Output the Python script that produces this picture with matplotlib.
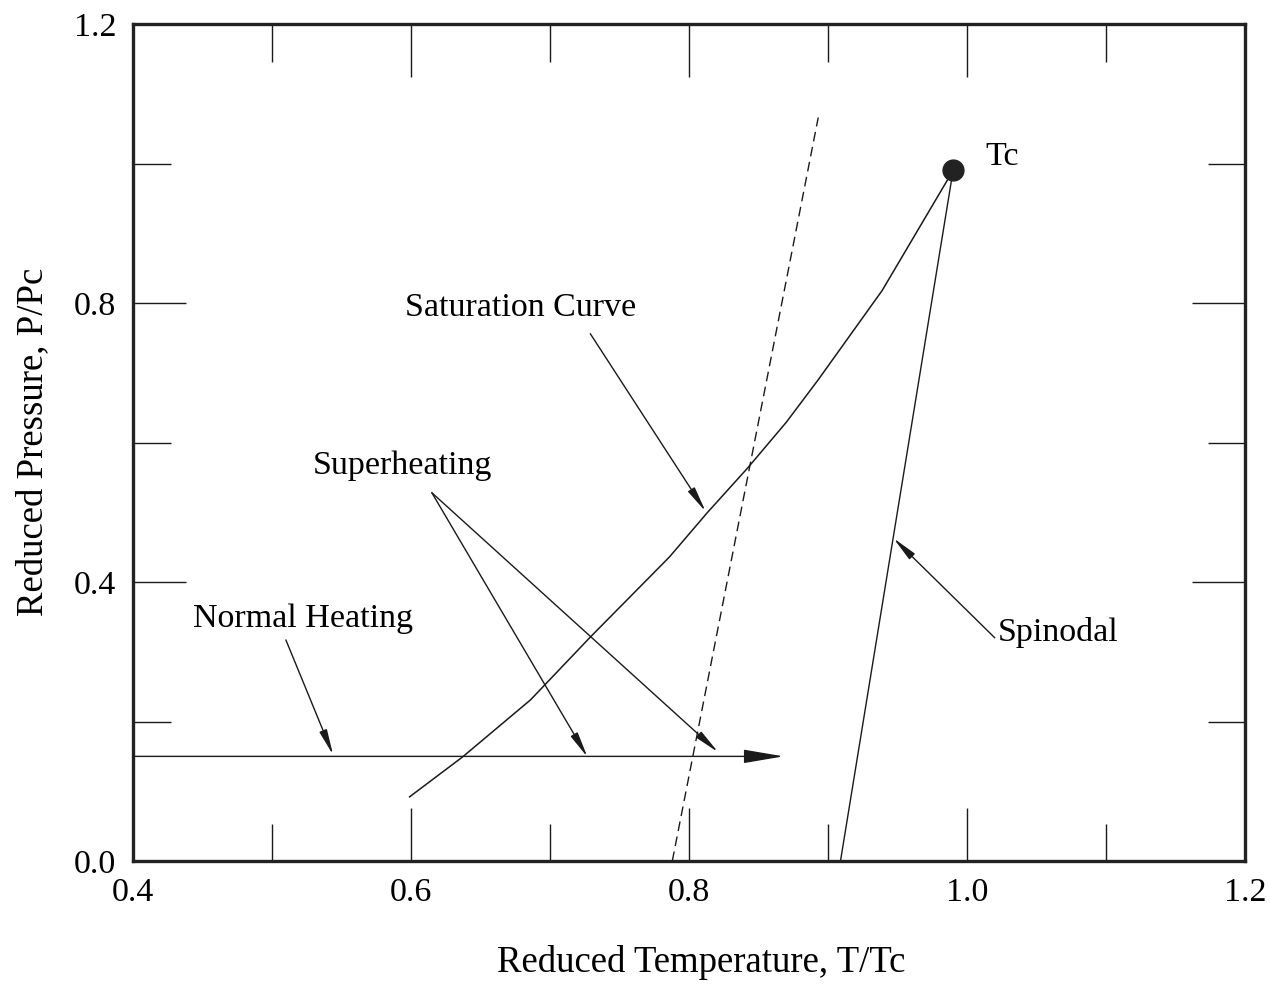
import numpy as np
import matplotlib
matplotlib.use("Agg")
import matplotlib.pyplot as plt
from matplotlib.ticker import MultipleLocator, FormatStrFormatter

plt.rcParams['font.family'] = ['Liberation Serif', 'DejaVu Serif']

# saturation curve
sat_t = [0.599, 0.637, 0.686, 0.729, 0.786, 0.813, 0.842, 0.870, 0.893, 0.939, 0.990]
sat_p = [0.092, 0.149, 0.231, 0.321, 0.436, 0.499, 0.563, 0.629, 0.690, 0.818, 0.990]

# spinodal and dashed line (straight)
spin_t = [0.909, 0.990]
spin_p = [0.000, 0.990]
dash_t = [0.788, 0.893]
dash_p = [0.000, 1.066]

# critical point
tc_t = [0.990]
tc_p = [0.990]

# heating path
heat_t = [0.400, 0.868]
heat_p = [0.150, 0.150]

# labels: text, text position, arrow starts and arrow tips
labels = ['Saturation Curve', 'Superheating', 'Normal Heating', 'Spinodal']
label_xy = [(0.679, 0.793), (0.594, 0.566), (0.522, 0.348), (1.0223, 0.327)]
arrow_from = [[(0.729, 0.756)],
              [(0.615, 0.528), (0.615, 0.528)],
              [(0.510, 0.317)],
              [(1.020, 0.320)]]
arrow_to = [[(0.812, 0.501)],
            [(0.727, 0.149), (0.821, 0.156)],
            [(0.544, 0.152)],
            [(0.947, 0.463)]]

fig = plt.figure(figsize=(12.7, 9.84), dpi=100)
ax = fig.add_axes([0.1047, 0.125, 0.8756, 0.8506])

ink = '#1a1a1a'
ax.plot(sat_t, sat_p, color=ink, lw=1.1)
ax.plot(spin_t, spin_p, color=ink, lw=1.0)
ax.plot(dash_t, dash_p, color=ink, lw=1.0, linestyle=(0, (7, 4)))
ax.plot(tc_t, tc_p, 'o', color='#222222', markersize=15)
ax.text(tc_t[0] + 0.023, tc_p[0] + 0.019, 'Tc', fontsize=24.5, va='center', ha='left')

ax.annotate('', xy=(heat_t[1], heat_p[1]), xytext=(heat_t[0], heat_p[0]),
            arrowprops=dict(arrowstyle='-|>,head_length=1.0,head_width=0.17',
                            mutation_scale=25, color=ink, lw=1.0,
                            shrinkA=0, shrinkB=0))

for i, lab in enumerate(labels):
    ha = 'left' if lab == 'Spinodal' else 'center'
    ax.text(label_xy[i][0], label_xy[i][1], lab, fontsize=24.5, ha=ha, va='center')
    for start, tip in zip(arrow_from[i], arrow_to[i]):
        ax.annotate('', xy=tip, xytext=start,
                    arrowprops=dict(arrowstyle='-|>,head_length=1.1,head_width=0.17',
                                    mutation_scale=14, color=ink, lw=1.0,
                                    shrinkA=0, shrinkB=0))

ax.set_xlim(0.4, 1.2)
ax.set_ylim(0.0, 1.2)
ax.xaxis.set_major_locator(MultipleLocator(0.2))
ax.xaxis.set_minor_locator(MultipleLocator(0.1))
ax.yaxis.set_major_locator(MultipleLocator(0.4))
ax.yaxis.set_minor_locator(MultipleLocator(0.2))
ax.xaxis.set_major_formatter(FormatStrFormatter('%.1f'))
ax.yaxis.set_major_formatter(FormatStrFormatter('%.1f'))
ax.tick_params(which='both', direction='in', top=True, right=True,
               color=ink, width=1.0, labelsize=24.5, pad=12)
ax.tick_params(which='major', length=38)
ax.tick_params(which='minor', length=27)
for s in ax.spines.values():
    s.set_linewidth(2.4)
    s.set_color('#222222')

ax.set_xlabel('Reduced Temperature, T/Tc', fontsize=26.5, va='center')
ax.set_ylabel('Reduced Pressure, P/Pc', fontsize=26.5, va='center')
ax.xaxis.set_label_coords(0.511, -0.1207)
ax.yaxis.set_label_coords(-0.0899, 0.5006)

fig.savefig('out.png', dpi=100)
